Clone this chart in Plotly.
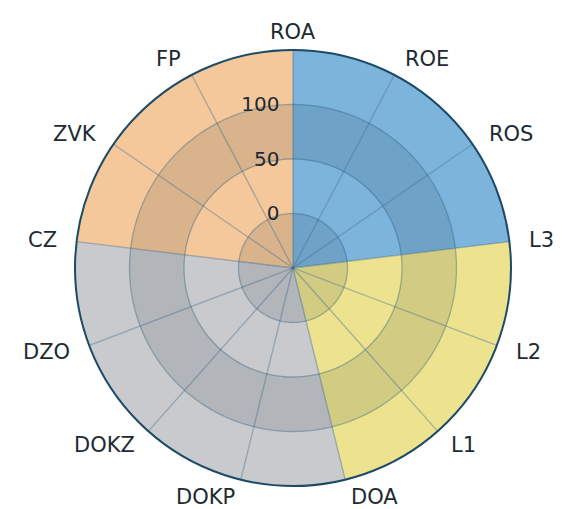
import math
import numpy as np
import plotly.graph_objects as go

categories = ["ROA", "ROE", "ROS", "L3", "L2", "L1", "DOA",
              "DOKP", "DOKZ", "DZO", "CZ", "ZVK", "FP"]
values = [150, 150, 150, 150, 150, 150, 150, 150, 150, 150, 150, 150, 150]
group_of = ["prof", "prof", "prof", "liq", "liq", "liq",
            "act", "act", "act", "act", "debt", "debt", "debt"]
group_colors = {"prof": "#7cb4dc", "liq": "#ede38f", "act": "#c9cacd", "debt": "#f4c89a"}
radial_ticks = [0, 50, 100]
radial_range = [-50, 150]
dark_bands = [(-50, 0), (50, 100)]

W, H = 562, 509
dom_x = [67 / W, 503 / W]
dom_y = [31 / H, 467 / H]

n = len(categories)
step = 360.0 / n
cat_angles = [i * step for i in range(n)]
mid_angles = [a + step / 2 for a in cat_angles]

fig = go.Figure()

# coloured sectors
fig.add_trace(go.Barpolar(
    r=[v - radial_range[0] for v in values],
    base=radial_range[0],
    theta=mid_angles,
    width=[step] * n,
    marker=dict(color=[group_colors[g] for g in group_of], line=dict(width=0)),
    hoverinfo="skip",
))

# darker alternating bands
fig.add_trace(go.Barpolar(
    r=[hi - lo for lo, hi in dark_bands],
    base=[lo for lo, hi in dark_bands],
    theta=[180] * len(dark_bands),
    width=[360] * len(dark_bands),
    marker=dict(color="rgba(20,30,40,0.12)", line=dict(width=0)),
    hoverinfo="skip",
))

grid_color = "rgba(40,90,125,0.38)"
# spokes
sr, st = [], []
for a in cat_angles:
    sr += [radial_range[0], radial_range[1], None]
    st += [a, a, None]
fig.add_trace(go.Scatterpolar(r=sr, theta=st, mode="lines",
                              line=dict(color=grid_color, width=1.3),
                              hoverinfo="skip"))
# rings
circ = np.linspace(0, 360, 361)
for t in radial_ticks:
    fig.add_trace(go.Scatterpolar(r=[t] * len(circ), theta=circ, mode="lines",
                                  line=dict(color=grid_color, width=1.3),
                                  hoverinfo="skip"))

# category labels placed around the circle (anchored like the original)
cx = (dom_x[0] + dom_x[1]) / 2 * W
cy = (dom_y[0] + dom_y[1]) / 2 * H
outer_px = (dom_x[1] - dom_x[0]) * W / 2
label_r = outer_px + 18
annotations = []
for name, a in zip(categories, cat_angles):
    s, c = math.sin(math.radians(a)), math.cos(math.radians(a))
    if abs(s) < 0.05:
        xa = "center"
    elif s > 0:
        xa = "left"
    else:
        xa = "right"
    annotations.append(dict(
        x=(cx + label_r * s) / W, y=(cy + label_r * c) / H,
        xref="paper", yref="paper", text=name, showarrow=False,
        xanchor=xa, yanchor="middle",
        font=dict(family="DejaVu Sans", size=21, color="#1e2a33"),
    ))

fig.update_layout(
    width=W, height=H,
    margin=dict(l=0, r=0, t=0, b=0),
    paper_bgcolor="white",
    showlegend=False,
    barmode="overlay",
    font=dict(family="DejaVu Sans", size=21, color="#1e2a33"),
    annotations=annotations,
    polar=dict(
        domain=dict(x=dom_x, y=dom_y),
        bgcolor="white",
        angularaxis=dict(
            direction="clockwise", rotation=90,
            tickmode="array", tickvals=cat_angles, ticktext=categories,
            showticklabels=False,
            showgrid=False, ticks="",
            showline=True, linecolor="#1d4a66", linewidth=2,
        ),
        radialaxis=dict(
            range=radial_range, angle=90, tickangle=90,
            side="counterclockwise",
            tickmode="array", tickvals=radial_ticks,
            showgrid=False, showline=False,
            ticks="outside", ticklen=6, tickcolor="rgba(0,0,0,0)",
            tickfont=dict(size=20),
        ),
    ),
)

fig.write_html("out.html")
